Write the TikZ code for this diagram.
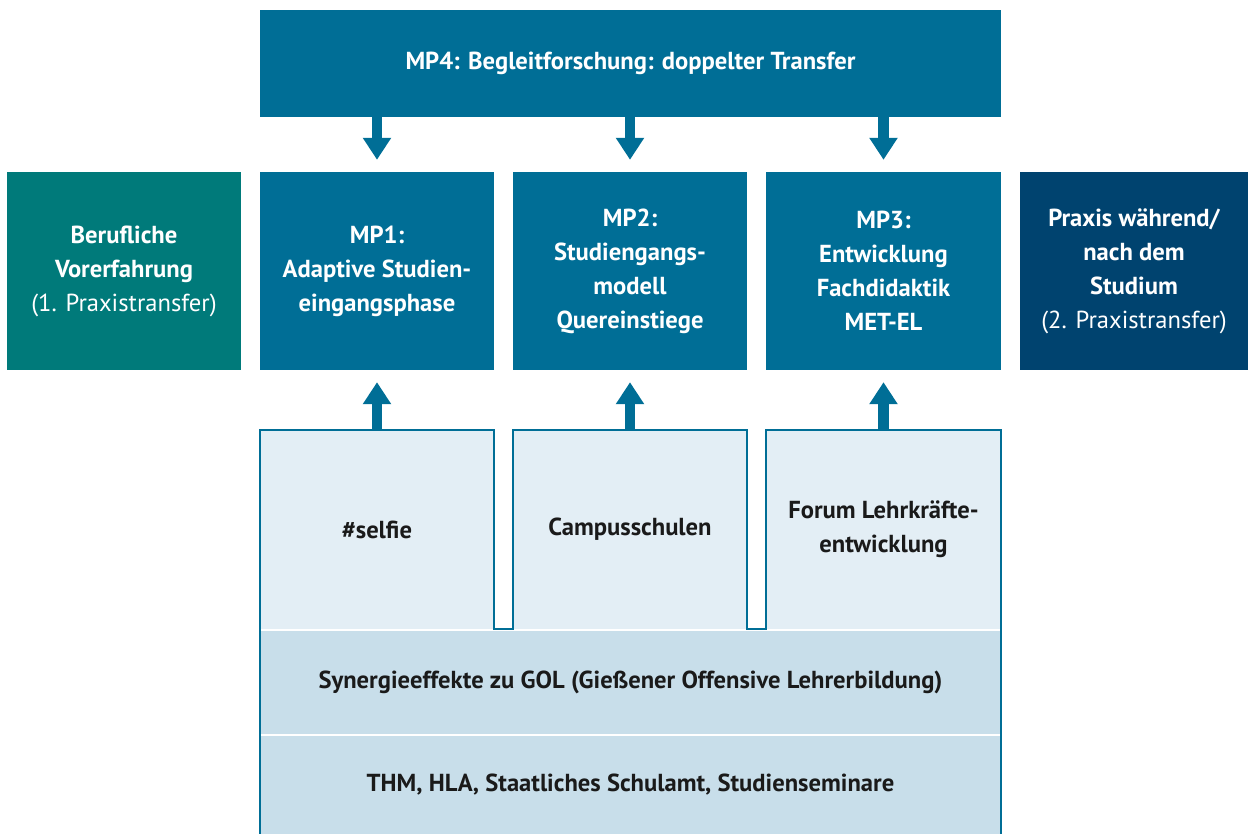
\documentclass[tikz,border=0pt]{standalone}
\usepackage{fontspec}
\setmainfont{PT Sans}
\usetikzlibrary{arrows.meta}

\definecolor{mpblue}{HTML}{006E96}
\definecolor{berufgreen}{HTML}{007A7A}
\definecolor{praxisnavy}{HTML}{00436F}
\definecolor{boxlight}{HTML}{E3EEF5}
\definecolor{bandlight}{HTML}{C8DEEA}
\definecolor{textdark}{HTML}{1A1A1A}

\begin{document}
\begin{tikzpicture}[x=1pt,y=-1pt,
    box/.style={rectangle,inner sep=0pt,minimum width=234pt,minimum height=198pt,
      align=center,text=white,font=\bfseries\fontsize{24.6}{34}\selectfont},
    lbox/.style={box,fill=boxlight,text=textdark,minimum height=199pt},
    band/.style={rectangle,inner sep=0pt,minimum width=741pt,fill=bandlight,
      text=textdark,font=\bfseries\fontsize{24.6}{34}\selectfont},
    bigarrow/.style={draw=mpblue,line width=10.5pt,shorten >=12pt,
      -{Triangle[width=27pt,length=22pt]}},
    outl/.style={draw=mpblue,line width=2.5pt,line join=miter}]

  \useasboundingbox (0,0) rectangle (1248,834);

  % top row
  \node[box,fill=mpblue,minimum width=741pt,minimum height=107pt] (mp4) at (630.5,63.5)
    {MP4: Begleitforschung: doppelter Transfer};

  % middle row
  \node[box,fill=berufgreen] (beruf) at (124,271)
    {Berufliche\\Vorerfahrung\\{\mdseries (1. Praxistransfer)}};
  \node[box,fill=mpblue] (mp1) at (377,271) {MP1:\\Adaptive Studien-\\eingangsphase};
  \node[box,fill=mpblue] (mp2) at (630,271) {MP2:\\Studiengangs-\\modell\\Quereinstiege};
  \node[box,fill=mpblue,minimum width=235pt] (mp3) at (883.5,271)
    {MP3:\\Entwicklung\\Fachdidaktik\\MET-EL};
  \node[box,fill=praxisnavy,minimum width=228pt] (praxis) at (1134,271)
    {Praxis während/\\nach dem\\Studium\\{\mdseries (2. Praxistransfer)}};

  % bottom part
  \node[lbox] (selfie) at (377,529.5) {\#selfie};
  \node[lbox] (campus) at (630,529.5) {Campusschulen};
  \node[lbox,minimum width=235pt] (forum) at (883.5,529.5) {Forum Lehrkräfte-\\entwicklung};
  \node[band,minimum height=104pt] (syn) at (630.5,682)
    {Synergieeffekte zu GOL (Gießener Offensive Lehrerbildung)};
  \node[band,minimum height=99pt] (thm) at (630.5,784.5)
    {THM, HLA, Staatliches Schulamt, Studienseminare};

  \draw[white,line width=2pt] (syn.north west) -- (syn.north east);
  \draw[white,line width=2pt] (thm.north west) -- (thm.north east);

  % arrows
  \draw[bigarrow] (mp4.south -| mp1.north) -- (mp1.north);
  \draw[bigarrow] (mp4.south -| mp2.north) -- (mp2.north);
  \draw[bigarrow] (mp4.south -| mp3.north) -- (mp3.north);
  \draw[bigarrow] (selfie.north) -- (mp1.south);
  \draw[bigarrow] (campus.north) -- (mp2.south);
  \draw[bigarrow] (forum.north) -- (mp3.south);

  % outline round the lower boxes
  \draw[outl] (thm.south west) -- (selfie.north west) -- (selfie.north east)
    -- (selfie.south east) -- (campus.south west) -- (campus.north west)
    -- (campus.north east) -- (campus.south east) -- (forum.south west)
    -- (forum.north west) -- (forum.north east) -- (thm.south east);
\end{tikzpicture}
\end{document}
